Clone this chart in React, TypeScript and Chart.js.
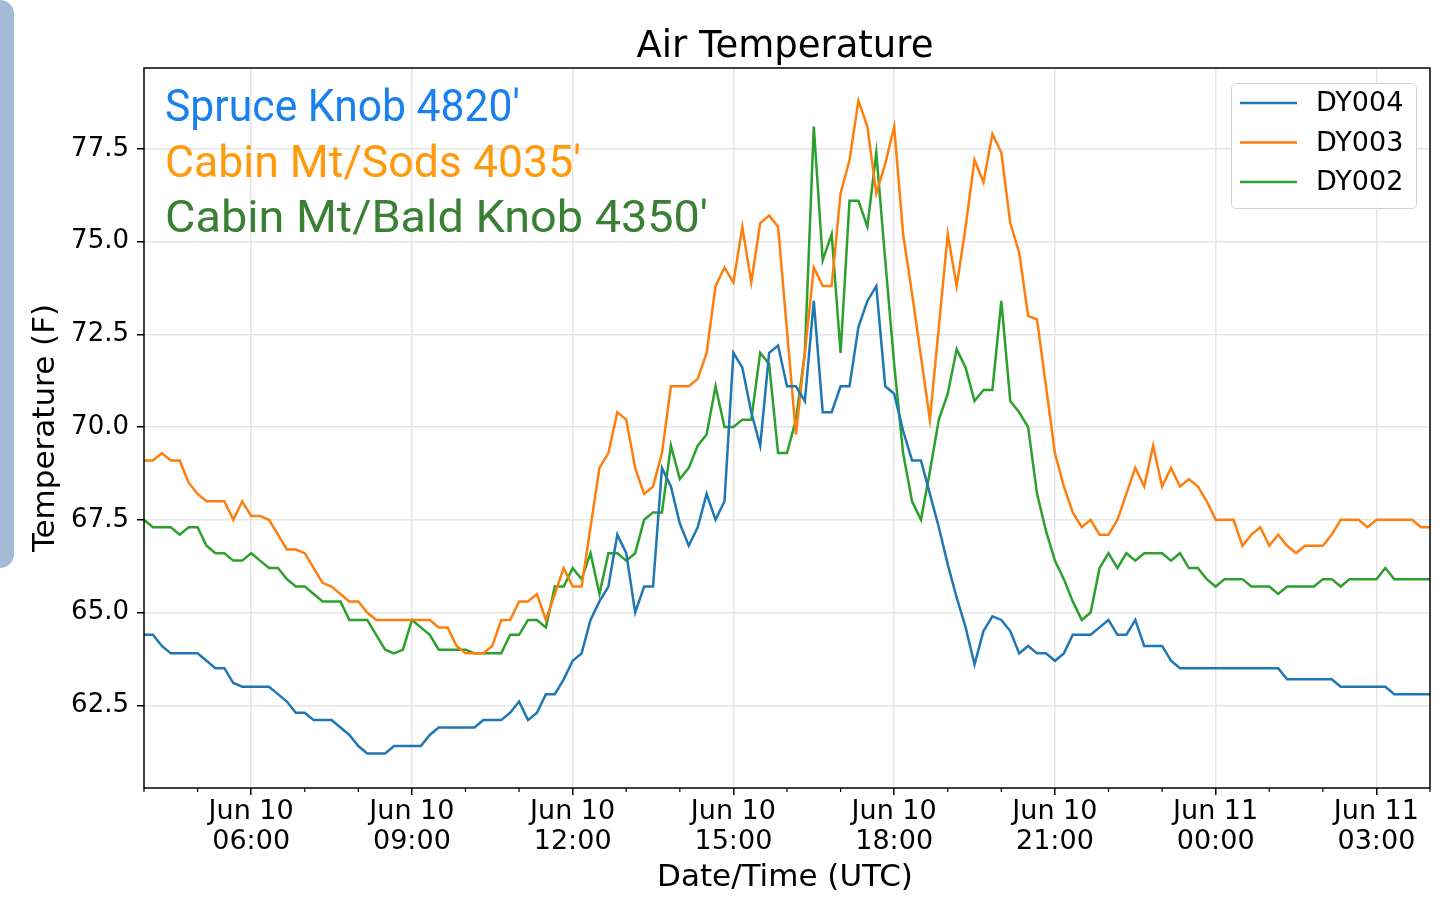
import { useEffect, useRef } from 'react';
import { Chart, registerables } from 'chart.js';

Chart.register(...registerables);

// readings every 10 minutes from Jun 10 04:00 UTC
const STEP_HOURS = 1 / 6;

const dy004 = [
  64.4, 64.4, 64.1, 63.9, 63.9, 63.9, 63.9, 63.7, 63.5, 63.5, 63.1, 63.0,
  63.0, 63.0, 63.0, 62.8, 62.6, 62.3, 62.3, 62.1, 62.1, 62.1, 61.9, 61.7,
  61.4, 61.2, 61.2, 61.2, 61.4, 61.4, 61.4, 61.4, 61.7, 61.9, 61.9, 61.9,
  61.9, 61.9, 62.1, 62.1, 62.1, 62.3, 62.6, 62.1, 62.3, 62.8, 62.8, 63.2,
  63.7, 63.9, 64.8, 65.3, 65.7, 67.1, 66.6, 65.0, 65.7, 65.7, 68.9, 68.4,
  67.4, 66.8, 67.3, 68.2, 67.5, 68.0, 72.0, 71.6, 70.4, 69.5, 72.0, 72.2,
  71.1, 71.1, 70.7, 73.4, 70.4, 70.4, 71.1, 71.1, 72.7, 73.4, 73.8, 71.1,
  70.9, 69.9, 69.1, 69.1, 68.2, 67.3, 66.3, 65.4, 64.6, 63.6, 64.5, 64.9,
  64.8, 64.5, 63.9, 64.1, 63.9, 63.9, 63.7, 63.9, 64.4, 64.4, 64.4, 64.6,
  64.8, 64.4, 64.4, 64.8, 64.1, 64.1, 64.1, 63.7, 63.5, 63.5, 63.5, 63.5,
  63.5, 63.5, 63.5, 63.5, 63.5, 63.5, 63.5, 63.5, 63.2, 63.2, 63.2, 63.2,
  63.2, 63.2, 63.0, 63.0, 63.0, 63.0, 63.0, 63.0, 62.8, 62.8, 62.8, 62.8,
  62.8,
];

const dy003 = [
  69.1, 69.1, 69.3, 69.1, 69.1, 68.5, 68.2, 68.0, 68.0, 68.0, 67.5, 68.0,
  67.6, 67.6, 67.5, 67.1, 66.7, 66.7, 66.6, 66.2, 65.8, 65.7, 65.5, 65.3,
  65.3, 65.0, 64.8, 64.8, 64.8, 64.8, 64.8, 64.8, 64.8, 64.6, 64.6, 64.1,
  63.9, 63.9, 63.9, 64.1, 64.8, 64.8, 65.3, 65.3, 65.5, 64.8, 65.5, 66.2,
  65.7, 65.7, 67.3, 68.9, 69.3, 70.4, 70.2, 68.9, 68.2, 68.4, 69.3, 71.1,
  71.1, 71.1, 71.3, 72.0, 73.8, 74.3, 73.9, 75.4, 73.9, 75.5, 75.7, 75.4,
  72.6, 69.8, 72.0, 74.3, 73.8, 73.8, 76.3, 77.2, 78.8, 78.1, 76.3, 77.1,
  78.1, 75.2, 73.6, 71.9, 70.2, 72.7, 75.2, 73.8, 75.4, 77.2, 76.6, 77.9,
  77.4, 75.5, 74.7, 73.0, 72.9, 71.1, 69.3, 68.4, 67.7, 67.3, 67.5, 67.1,
  67.1, 67.5, 68.2, 68.9, 68.4, 69.5, 68.4, 68.9, 68.4, 68.6, 68.4, 68.0,
  67.5, 67.5, 67.5, 66.8, 67.1, 67.3, 66.8, 67.1, 66.8, 66.6, 66.8, 66.8,
  66.8, 67.1, 67.5, 67.5, 67.5, 67.3, 67.5, 67.5, 67.5, 67.5, 67.5, 67.3,
  67.3,
];

const dy002 = [
  67.5, 67.3, 67.3, 67.3, 67.1, 67.3, 67.3, 66.8, 66.6, 66.6, 66.4, 66.4,
  66.6, 66.4, 66.2, 66.2, 65.9, 65.7, 65.7, 65.5, 65.3, 65.3, 65.3, 64.8,
  64.8, 64.8, 64.4, 64.0, 63.9, 64.0, 64.8, 64.6, 64.4, 64.0, 64.0, 64.0,
  64.0, 63.9, 63.9, 63.9, 63.9, 64.4, 64.4, 64.8, 64.8, 64.6, 65.7, 65.7,
  66.2, 65.9, 66.6, 65.5, 66.6, 66.6, 66.4, 66.6, 67.5, 67.7, 67.7, 69.5,
  68.6, 68.9, 69.5, 69.8, 71.1, 70.0, 70.0, 70.2, 70.2, 72.0, 71.7, 69.3,
  69.3, 70.2, 72.0, 78.1, 74.5, 75.2, 72.0, 76.1, 76.1, 75.4, 77.4, 74.5,
  71.7, 69.3, 68.0, 67.5, 68.8, 70.2, 70.9, 72.1, 71.6, 70.7, 71.0, 71.0,
  73.4, 70.7, 70.4, 70.0, 68.2, 67.2, 66.4, 65.9, 65.3, 64.8, 65.0, 66.2,
  66.6, 66.2, 66.6, 66.4, 66.6, 66.6, 66.6, 66.4, 66.6, 66.2, 66.2, 65.9,
  65.7, 65.9, 65.9, 65.9, 65.7, 65.7, 65.7, 65.5, 65.7, 65.7, 65.7, 65.7,
  65.9, 65.9, 65.7, 65.9, 65.9, 65.9, 65.9, 66.2, 65.9, 65.9, 65.9, 65.9,
  65.9,
];

const seriesNames = ['DY004', 'DY003', 'DY002'];
const seriesColors = ['#1f77b4', '#ff7f0e', '#2ca02c'];

const yTicks = [62.5, 65, 67.5, 70, 72.5, 75, 77.5];
const majorHours = [2, 5, 8, 11, 14, 17, 20, 23];
const majorLabels = [
  ['Jun 10', '06:00'], ['Jun 10', '09:00'], ['Jun 10', '12:00'], ['Jun 10', '15:00'],
  ['Jun 10', '18:00'], ['Jun 10', '21:00'], ['Jun 11', '00:00'], ['Jun 11', '03:00'],
];

const siteNotes = ["Spruce Knob 4820'", "Cabin Mt/Sods 4035'", "Cabin Mt/Bald Knob 4350'"];
const siteColors = ['#1a80f0', '#ff9a0d', '#3a8034'];
const noteWidths = [355, 416, 543];

const FONT = '"DejaVu Sans", sans-serif';

const isMajor = (v: number | undefined) => v !== undefined && majorHours.includes(v);

const decorations = {
  id: 'decorations',
  afterDraw(chart: Chart) {
    const { ctx, chartArea: a } = chart;
    const xs = chart.scales.x;
    ctx.save();

    // minor hour ticks
    ctx.strokeStyle = '#000';
    ctx.lineWidth = 1.2;
    for (let h = 0; h <= 24; h++) {
      if (isMajor(h)) continue;
      const x = xs.getPixelForValue(h);
      ctx.beginPath();
      ctx.moveTo(x, a.bottom);
      ctx.lineTo(x, a.bottom + 4);
      ctx.stroke();
    }

    // frame
    ctx.lineWidth = 1.5;
    ctx.strokeRect(a.left, a.top, a.right - a.left, a.bottom - a.top);

    // title and axis titles
    ctx.fillStyle = '#000';
    ctx.textAlign = 'center';
    ctx.textBaseline = 'alphabetic';
    ctx.font = `37px ${FONT}`;
    ctx.fillText('Air Temperature', (a.left + a.right) / 2 - 2, 57);
    ctx.font = `31px ${FONT}`;
    ctx.fillText('Date/Time (UTC)', (a.left + a.right) / 2 - 2, 886);
    ctx.save();
    ctx.translate(54, (a.top + a.bottom) / 2);
    ctx.rotate(-Math.PI / 2);
    ctx.fillText('Temperature (F)', 0, 0);
    ctx.restore();

    // site notes
    ctx.textAlign = 'left';
    ctx.font = '44px Roboto';
    siteNotes.forEach((t, i) => {
      const w = ctx.measureText(t).width;
      ctx.save();
      ctx.translate(165, 121 + i * 55.5);
      ctx.scale(noteWidths[i] / w, 1);
      ctx.fillStyle = siteColors[i];
      ctx.fillText(t, 0, 0);
      ctx.restore();
    });

    // legend
    ctx.beginPath();
    ctx.roundRect(1231.5, 83.5, 185, 125, 5);
    ctx.fillStyle = 'rgba(255,255,255,0.85)';
    ctx.fill();
    ctx.strokeStyle = '#d0d0d0';
    ctx.lineWidth = 1;
    ctx.stroke();
    ctx.font = `27px ${FONT}`;
    ctx.textBaseline = 'middle';
    seriesNames.forEach((n, i) => {
      const y = 103 + i * 39.5;
      ctx.strokeStyle = seriesColors[i];
      ctx.lineWidth = 2.5;
      ctx.beginPath();
      ctx.moveTo(1240, y);
      ctx.lineTo(1297, y);
      ctx.stroke();
      ctx.fillStyle = '#000';
      ctx.fillText(n, 1316, y + 1);
    });

    ctx.restore();
  },
};

export default function App() {
  const canvasRef = useRef<HTMLCanvasElement>(null);
  const chartRef = useRef<Chart | null>(null);

  useEffect(() => {
    if (!canvasRef.current) return;
    if (chartRef.current) chartRef.current.destroy();

    const series = [dy004, dy003, dy002];

    chartRef.current = new Chart(canvasRef.current, {
      type: 'line',
      data: {
        datasets: series.map((vals, k) => ({
          label: seriesNames[k],
          data: vals.map((v, i) => ({ x: i * STEP_HOURS, y: v })),
          borderColor: seriesColors[k],
          borderWidth: 2.5,
          pointRadius: 0,
          fill: false,
          tension: 0,
        })),
      },
      options: {
        animation: false,
        responsive: true,
        maintainAspectRatio: false,
        layout: { padding: { top: 68, right: 10, left: 0, bottom: 0 } },
        plugins: {
          legend: { display: false },
          tooltip: { enabled: false },
        },
        scales: {
          x: {
            type: 'linear',
            min: 0,
            max: 24,
            afterBuildTicks: (s: any) => {
              s.ticks = Array.from({ length: 25 }, (_, h) => ({ value: h }));
            },
            afterFit: (s: any) => { s.height = 124; },
            border: { display: false },
            grid: {
              color: (c: any) => (isMajor(c.tick?.value) ? '#e6e6e6' : 'rgba(0,0,0,0)'),
              lineWidth: 1.5,
              tickLength: 7,
              tickWidth: 1.5,
              tickColor: (c: any) => (isMajor(c.tick?.value) ? '#000' : 'rgba(0,0,0,0)'),
            },
            ticks: {
              autoSkip: false,
              maxRotation: 0,
              padding: 2,
              color: '#000',
              font: { family: FONT, size: 27, lineHeight: 30 / 27 },
              callback: (v: any) => {
                const k = majorHours.indexOf(Number(v));
                return k >= 0 ? majorLabels[k] : '';
              },
            },
          },
          y: {
            min: 60.27,
            max: 79.68,
            afterBuildTicks: (s: any) => {
              s.ticks = yTicks.map(v => ({ value: v }));
            },
            afterFit: (s: any) => { s.width = 144; },
            border: { display: false },
            grid: {
              color: '#e6e6e6',
              lineWidth: 1.5,
              tickLength: 7,
              tickWidth: 1.5,
              tickColor: '#000',
            },
            ticks: {
              padding: 8,
              color: '#000',
              font: { family: FONT, size: 26 },
              callback: (v: any) => Number(v).toFixed(1),
            },
          },
        },
      },
      plugins: [decorations],
    });

    return () => {
      if (chartRef.current) {
        chartRef.current.destroy();
        chartRef.current = null;
      }
    };
  }, []);

  return (
    <div style={{ position: 'fixed', left: 0, top: 0, width: 1440, height: 912, background: '#fff' }}>
      <canvas ref={canvasRef}></canvas>
      <div
        style={{
          position: 'absolute',
          left: 0,
          top: 0,
          width: 14,
          height: 568,
          background: '#a3bbd4',
          borderRadius: '0 16px 16px 0',
        }}
      />
    </div>
  );
}
